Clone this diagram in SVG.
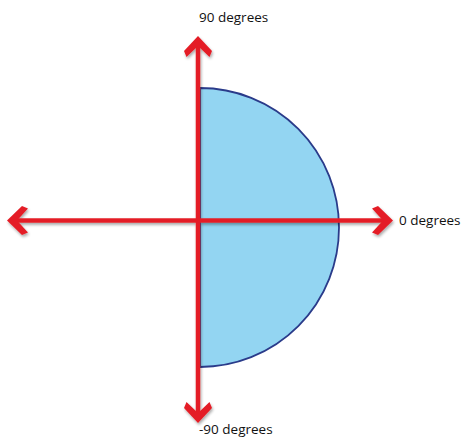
<svg xmlns="http://www.w3.org/2000/svg" width="461" height="439" viewBox="0 0 461 439">
<defs>
<style>
.lbl{font-family:"Open Sans","Liberation Sans",sans-serif;font-size:13.5px;fill:#111111}
.axis{stroke:#e41f26;stroke-width:4.5;fill:none}
.head{fill:#e41f26}
</style>
<filter id="sh" x="-10%" y="-10%" width="120%" height="120%">
<feGaussianBlur in="SourceAlpha" stdDeviation="1.5"/>
<feOffset dx="1" dy="1.5" result="b"/>
<feComponentTransfer><feFuncA type="linear" slope="0.35"/></feComponentTransfer>
<feMerge><feMergeNode/><feMergeNode in="SourceGraphic"/></feMerge>
</filter>
</defs>
<rect width="461" height="439" fill="#ffffff"/>
<g id="half-disc">
<path d="M200 88 A139 139.5 0 0 1 200 367 Z" fill="#93d5f2" stroke="#2a3b8a" stroke-width="1.8"/>
</g>
<g id="connectors" filter="url(#sh)">
<line class="axis" x1="14" y1="220.5" x2="386" y2="220.5"/>
<line class="axis" x1="198" y1="43" x2="198" y2="416"/>
<polygon class="head" points="7,220.5 22,206 28,208.5 17,220.5 28,232.5 22,235"/>
<polygon class="head" points="393,220.5 378,206 372,208.5 383,220.5 372,232.5 378,235"/>
<polygon class="head" points="198,36 184,51 186.5,57 198,46 209.5,57 212,51"/>
<polygon class="head" points="198,423 184,408 186.5,402 198,413 209.5,402 212,408"/>
</g>
<g id="label-90">
<text class="lbl" x="199" y="22">90 degrees</text>
</g>
<g id="label-0">
<text class="lbl" x="399" y="225">0 degrees</text>
</g>
<g id="label-neg90">
<text class="lbl" x="199" y="434">-90 degrees</text>
</g>
</svg>
